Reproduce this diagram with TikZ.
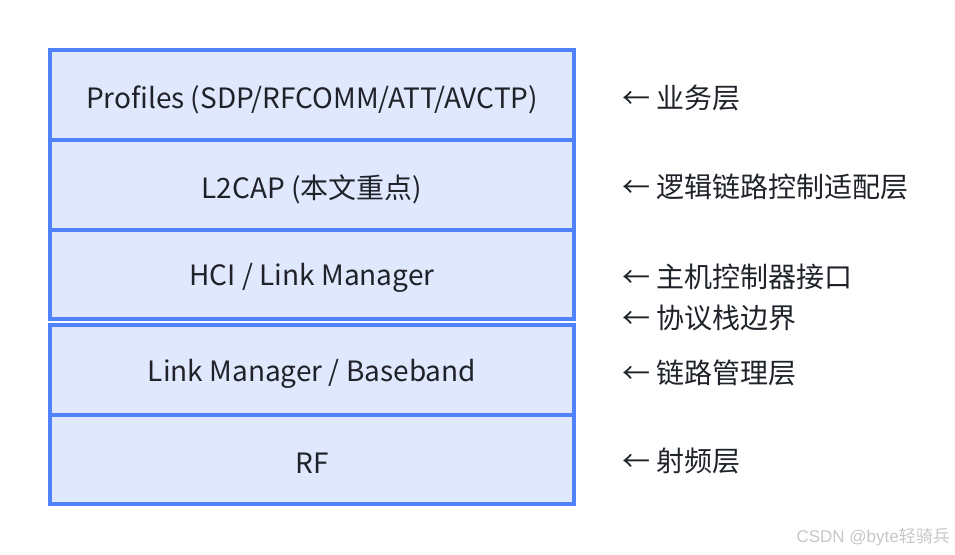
\documentclass[tikz,border=0pt]{standalone}
\usepackage{fontspec}
\setmainfont{Noto Sans CJK SC}
\newfontfamily\wmlat{Liberation Sans}
\newfontfamily\wmcjk{Noto Sans CJK SC}
\definecolor{boxfill}{HTML}{E0E8FE}
\definecolor{boxline}{HTML}{5082FC}
\definecolor{txt}{HTML}{1F2329}
\tikzset{
  layer/.style={draw=boxline, line width=4pt, fill=boxfill, minimum width=524pt, inner sep=0pt, outer sep=0pt, anchor=north west},
  lbl/.style={text=txt, font=\fontsize{28}{32}\selectfont, inner sep=0pt},
  side/.style={text=txt, font=\fontsize{28}{32}\selectfont, inner sep=0pt, anchor=west},
}
\begin{document}
\begin{tikzpicture}[x=1pt,y=-1pt]
\useasboundingbox (0,0) rectangle (955,554);
\node[layer, minimum height=90pt] (b1) at (50,50) {};
\node[layer, minimum height=90pt] (b2) at (50,140) {};
\node[layer, minimum height=89pt] (b3) at (50,230) {};
\node[layer, minimum height=89.5pt] (b4) at (50,325) {};
\node[layer, minimum height=89.5pt] (b5) at (50,414.5) {};
\node[lbl] (t1) at (312,100) {Profiles (SDP/RFCOMM/ATT/AVCTP)};
\node[lbl] (t2) at (312,189) {L2CAP (本文重点)};
\node[lbl] (t3) at (312,278) {HCI / Link Manager};
\node[lbl] (t4) at (312,374) {Link Manager / Baseband};
\node[lbl] (t5) at (312,463) {RF};
\node[side] (s1) at (622,98) {← 业务层};
\node[side] (s2) at (622,187) {← 逻辑链路控制适配层};
\node[side] (s3) at (622,277) {← 主机控制器接口};
\node[side] (s4) at (622,318) {← 协议栈边界};
\node[side] (s5) at (622,373) {← 链路管理层};
\node[side] (s6) at (622,461) {← 射频层};
\node[anchor=east, inner sep=0pt, text=black!22, font=\fontsize{17}{19}\selectfont] (wm) at (950,537) {{\wmlat CSDN @byte}{\wmcjk 轻骑兵}};
\end{tikzpicture}
\end{document}
